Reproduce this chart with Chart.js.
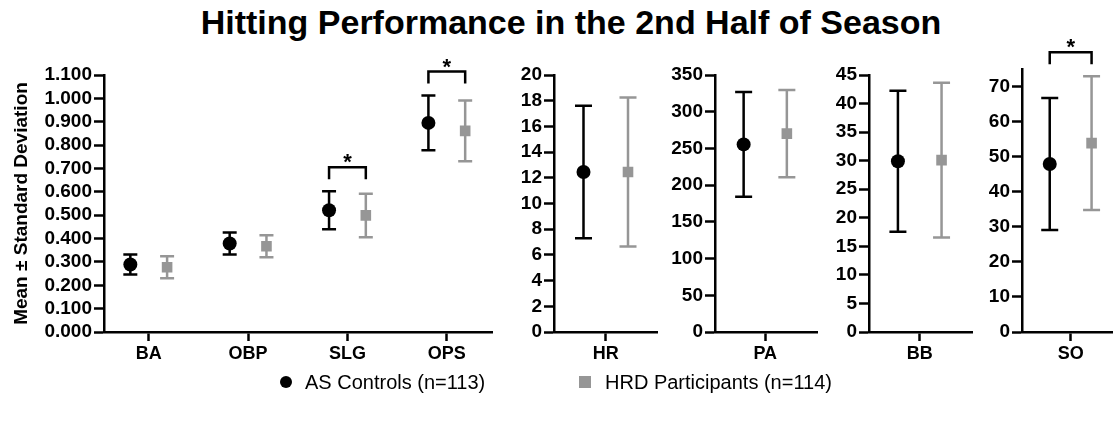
<!DOCTYPE html>
<html><head><meta charset="utf-8">
<script src="https://cdn.jsdelivr.net/npm/chart.js@4.4.1/dist/chart.umd.min.js"></script>
<style>
html,body{margin:0;padding:0;background:#fff;width:1120px;height:422px;overflow:hidden;font-family:"Liberation Sans",Arial,sans-serif;}
#title{position:absolute;left:0;width:1142px;top:2px;text-align:center;font-weight:bold;font-size:34px;line-height:40px;color:#000;}
.panel{position:absolute;top:0;height:370px;}
#legend{position:absolute;top:368px;left:0;width:1120px;height:28px;font-size:20px;line-height:28px;color:#000;}
#legend .item{position:absolute;top:0;white-space:nowrap;}
#legend .circ{position:absolute;top:8px;width:12px;height:12px;border-radius:50%;background:#000;}
#legend .sq{position:absolute;top:8px;width:12px;height:12px;background:#969696;}
</style></head>
<body>
<div id="title">Hitting Performance in the 2nd Half of Season</div>
<div class="panel" style="left:0;width:500px"><canvas id="cMain" width="500" height="370"></canvas></div>
<div class="panel" style="left:500px;width:165px"><canvas id="cHR" width="165" height="370"></canvas></div>
<div class="panel" style="left:665px;width:160px"><canvas id="cPA" width="160" height="370"></canvas></div>
<div class="panel" style="left:825px;width:155px"><canvas id="cBB" width="155" height="370"></canvas></div>
<div class="panel" style="left:980px;width:140px"><canvas id="cSO" width="140" height="370"></canvas></div>
<div id="legend">
  <div class="circ" style="left:280px"></div><div class="item" style="left:305px">AS Controls (n=113)</div>
  <div class="sq" style="left:579px"></div><div class="item" style="left:605px">HRD Participants (n=114)</div>
</div>
<script>
// ---------- DATA ----------
const mainCategories = ['BA', 'OBP', 'SLG', 'OPS'];
const controlsMainMean = [0.289, 0.379, 0.521, 0.895];
const controlsMainSD   = [0.043, 0.047, 0.081, 0.117];
const hrdMainMean      = [0.277, 0.367, 0.499, 0.861];
const hrdMainSD        = [0.047, 0.047, 0.093, 0.130];
const mainSignificant  = [false, false, true, true];

const smallCategories   = ['HR', 'PA', 'BB', 'SO'];
const controlsSmallMean = [12.45, 255.5, 29.9, 47.9];
const controlsSmallSD   = [5.15, 71.3, 12.35, 18.8];
const hrdSmallMean      = [12.45, 270.1, 30.1, 53.85];
const hrdSmallSD        = [5.8, 59.4, 13.55, 19.05];
const smallSignificant  = [false, false, false, true];
const smallAxisMax      = [20, 350, 45, 75];
const smallAxisStep     = [2, 50, 5, 10];
const smallTickMax      = [20, 350, 45, 70];

const mainAxisMax = 1.1, mainAxisStep = 0.1;
const seriesNames = ['AS Controls (n=113)', 'HRD Participants (n=114)'];

// ---------- STYLE / LAYOUT ----------
const BLACK = '#000000', GREY = '#969696';
const FONT = '"Liberation Sans", Arial, sans-serif';

const errorBarPlugin = {
  id: 'errorBars',
  beforeDatasetsDraw(chart, args, opts) {
    const {ctx, scales: {x, y}} = chart;
    chart.data.datasets.forEach(ds => {
      ds.data.forEach(p => {
        const px = x.getPixelForValue(p.x);
        const top = y.getPixelForValue(p.y + p.sd);
        const bot = y.getPixelForValue(p.y - p.sd);
        ctx.save();
        ctx.strokeStyle = ds.borderColor;
        ctx.lineWidth = 2.5;
        ctx.beginPath();
        ctx.moveTo(px, top); ctx.lineTo(px, bot);
        ctx.moveTo(px - opts.cap, top); ctx.lineTo(px + opts.cap, top);
        ctx.moveTo(px - opts.cap, bot); ctx.lineTo(px + opts.cap, bot);
        ctx.stroke();
        ctx.restore();
      });
    });
  },
  afterDraw(chart, args, opts) {
    const {ctx, scales: {x, y}} = chart;
    const ds0 = chart.data.datasets[0].data, ds1 = chart.data.datasets[1].data;
    (opts.sig || []).forEach((s, i) => {
      if (!s) return;
      const a = ds0[i], b = ds1[i];
      const xa = x.getPixelForValue(a.x), xb = x.getPixelForValue(b.x);
      const hi = Math.min(y.getPixelForValue(a.y + a.sd), y.getPixelForValue(b.y + b.sd));
      const legBot = hi - 12, top = legBot - 12;
      ctx.save();
      ctx.strokeStyle = '#000'; ctx.lineWidth = 2.5; ctx.lineJoin = 'miter';
      ctx.beginPath();
      ctx.moveTo(xa, legBot); ctx.lineTo(xa, top); ctx.lineTo(xb, top); ctx.lineTo(xb, legBot);
      ctx.stroke();
      ctx.fillStyle = '#000';
      ctx.font = 'bold 22px ' + FONT;
      ctx.textAlign = 'center'; ctx.textBaseline = 'alphabetic';
      ctx.fillText('*', (xa + xb) / 2, top + 2);
      ctx.restore();
    });
  }
};

function makePanel(id, cfg) {
  const datasets = [
    {label: seriesNames[0], data: cfg.c, borderColor: BLACK, backgroundColor: BLACK,
     pointStyle: 'circle', pointRadius: 7, pointBorderWidth: 0, showLine: false},
    {label: seriesNames[1], data: cfg.h, borderColor: GREY, backgroundColor: GREY,
     pointStyle: 'rect', pointRadius: 7.5, pointBorderWidth: 0, showLine: false}
  ];
  new Chart(document.getElementById(id), {
    type: 'scatter',
    data: {datasets},
    plugins: [errorBarPlugin],
    options: {
      responsive: false, animation: false, events: [],
      layout: {padding: {top: cfg.top, right: cfg.padRight, bottom: 0, left: 0}},
      plugins: {legend: {display: false}, tooltip: {enabled: false}, title: {display: false},
                errorBars: {cap: cfg.cap, sig: cfg.sig}},
      scales: {
        x: {
          type: 'linear', min: cfg.xMin, max: cfg.xMax,
          afterFit: s => { s.height = 38; },
          afterBuildTicks: s => { s.ticks = cfg.labels.map((l, i) => ({value: i})); },
          ticks: {callback: (v) => cfg.labels[Math.round(v)] ?? '', color: '#000',
                  font: {family: FONT, size: 18, weight: 'bold'}, padding: 2, maxRotation: 0, autoSkip: false},
          grid: {drawOnChartArea: false, drawTicks: true, tickLength: 9, tickWidth: 2.5, tickColor: '#000'},
          border: {display: true, color: '#000', width: 2.5}
        },
        y: {
          type: 'linear', min: 0, max: cfg.yMax,
          afterFit: s => { s.width = cfg.yWidth; },
          afterBuildTicks: s => {
            const n = Math.round(cfg.tickMax / cfg.step);
            const t = [];
            for (let k = 0; k <= n; k++) t.push({value: +(k * cfg.step).toFixed(6)});
            s.ticks = t;
          },
          ticks: {stepSize: cfg.step, callback: cfg.fmt, color: '#000', autoSkip: false,
                  font: {family: FONT, size: 19, weight: 'bold'}, padding: 2},
          grid: {drawOnChartArea: false, drawTicks: true, tickLength: 10, tickWidth: 2.5, tickColor: '#000'},
          border: {display: true, color: '#000', width: 2.5},
          title: cfg.yTitle ? {display: true, text: cfg.yTitle, color: '#000',
                  font: {family: FONT, size: 19, weight: 'bold'}, padding: {top: 10, bottom: 0}} : {display: false}
        }
      }
    }
  });
}

// Main panel (rate stats)
const mainOff = 0.185;
makePanel('cMain', {
  labels: mainCategories,
  c: mainCategories.map((_, i) => ({x: i - mainOff, y: controlsMainMean[i], sd: controlsMainSD[i]})),
  h: mainCategories.map((_, i) => ({x: i + mainOff, y: hrdMainMean[i], sd: hrdMainSD[i]})),
  sig: mainSignificant,
  xMin: -0.45, xMax: 3.46, yMax: mainAxisMax, step: mainAxisStep, tickMax: mainAxisMax,
  fmt: v => Number(v).toFixed(3), yWidth: 104, top: 75, padRight: 5, cap: 7,
  yTitle: 'Mean \u00B1 Standard Deviation'
});

// Small panels (counting stats)
const smallIds = ['cHR', 'cPA', 'cBB', 'cSO'];
const smallYWidth = [54, 50, 44, 42];
const smallXMax = [1, 1.04, 1.04, 0.86];
const smallTop = [75, 75, 75, 69];
const smallPadRight = [5, 4, 5, 3];
const smallOff = 0.43;
smallCategories.forEach((cat, i) => {
  makePanel(smallIds[i], {
    labels: [cat],
    c: [{x: -smallOff, y: controlsSmallMean[i], sd: controlsSmallSD[i]}],
    h: [{x: smallOff, y: hrdSmallMean[i], sd: hrdSmallSD[i]}],
    sig: [smallSignificant[i]],
    xMin: -1, xMax: smallXMax[i], yMax: smallAxisMax[i], step: smallAxisStep[i], tickMax: smallTickMax[i],
    fmt: v => String(v), yWidth: smallYWidth[i], top: smallTop[i], padRight: smallPadRight[i], cap: 8.5,
    yTitle: null
  });
});
</script>
</body></html>
